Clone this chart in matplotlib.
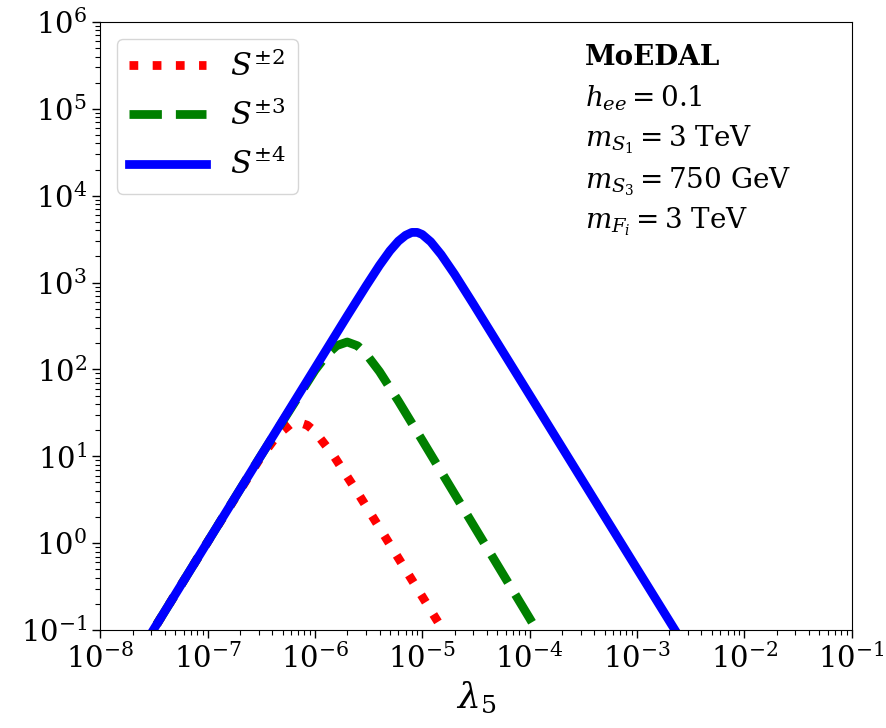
import numpy as np
import matplotlib
matplotlib.use("Agg")
import matplotlib.pyplot as plt

plt.rcParams['font.family'] = 'DejaVu Serif'
plt.rcParams['mathtext.fontset'] = 'dejavuserif'

# S^{+-2}
lam_s2 = [2e-8, 1e-7, 3e-7, 4.5e-7, 6e-7, 7e-7, 8.5e-7, 1e-6, 1.5e-6, 2.5e-6, 5e-6, 1e-5, 2e-5]
n_s2 = [0.041, 1.03, 8.97, 17.7, 23.7, 24.7, 22.8, 19.3, 10.1, 3.82, 0.966, 0.243, 0.061]

# S^{+-3}
lam_s3 = [2e-8, 1e-7, 3e-7, 1e-6, 1.3e-6, 1.6e-6, 2e-6, 2.5e-6, 3e-6, 4e-6, 6e-6, 1e-5, 3e-5, 1e-4, 1.5e-4]
n_s3 = [0.041, 1.03, 9.28, 97.4, 149, 188, 207, 187, 151, 94.5, 43.2, 15.3, 1.61, 0.137, 0.059]

# S^{+-4}
lam_s4 = [2e-8, 1e-7, 1e-6, 2e-6, 3e-6, 4e-6, 5e-6, 6e-6, 7e-6, 8e-6, 9e-6, 1e-5,
          1.2e-5, 1.5e-5, 2e-5, 3e-5, 1e-4, 1e-3, 3e-3]
n_s4 = [0.041, 1.03, 103, 412, 914, 1580, 2320, 3000, 3500, 3780, 3780, 3580,
        2950, 2100, 1250, 565, 51, 0.51, 0.057]

fig = plt.figure(figsize=(8.87, 7.28), dpi=100)
ax = fig.add_axes([0.113, 0.1346, 0.847, 0.8352])

lw = 6.3
ax.plot(lam_s2, n_s2, color='red', ls=':', lw=lw, label=r'$S^{\pm 2}$')
ax.plot(lam_s3, n_s3, color='green', ls='--', lw=lw, label=r'$S^{\pm 3}$')
ax.plot(lam_s4, n_s4, color='blue', ls='-', lw=lw, label=r'$S^{\pm 4}$')

ax.set_xscale('log')
ax.set_yscale('log')
ax.set_xlim(1e-8, 1e-1)
ax.set_ylim(1e-1, 1e6)
ax.set_xticks([10.0**k for k in range(-8, 0)])
ax.set_yticks([10.0**k for k in range(-1, 7)])
ax.tick_params(which='major', labelsize=21, length=6, width=1)
ax.tick_params(which='minor', length=3.5, width=0.8)
ax.set_xlabel(r'$\lambda_5$', fontsize=26)

ax.legend(loc='upper left', fontsize=22, handlelength=2.5, borderaxespad=0.55,
          labelspacing=0.55)

lines = [r'$h_{ee} = 0.1$', r'$m_{S_1} = 3$ TeV', r'$m_{S_3} = 750$ GeV', r'$m_{F_i} = 3$ TeV']
ax.text(0.645, 0.942, 'MoEDAL', transform=ax.transAxes, fontsize=20,
        fontweight='bold', va='center', ha='left')
ys = [0.875, 0.806, 0.737, 0.671]
for t, yy in zip(lines, ys):
    ax.text(0.645, yy, t, transform=ax.transAxes, fontsize=20, va='center', ha='left')

fig.savefig('out.png', dpi=100)
